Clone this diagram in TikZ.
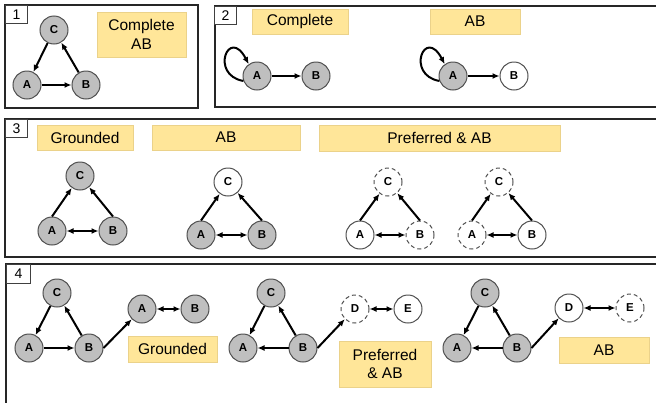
\documentclass[tikz,border=0pt]{standalone}
\usepackage{fontspec}
\setmainfont{Liberation Sans}
\usetikzlibrary{arrows.meta}
\definecolor{nodegray}{HTML}{BFBFBF}
\definecolor{nodeedge}{HTML}{505050}
\definecolor{labelfill}{HTML}{FFE699}
\definecolor{labeledge}{HTML}{EBD28A}
\tikzset{
  panel/.style={draw=black!85, line width=1.6pt},
  tagbox/.style={draw=black!75, line width=0.8pt, fill=white, anchor=north west,
    inner sep=0pt, font=\fontsize{14}{16}\selectfont},
  lbl/.style={fill=labelfill, draw=labeledge, line width=0.6pt, inner sep=0pt,
    align=center, font=\fontsize{15.5}{18.5}\selectfont},
  arg/.style={circle, minimum size=28pt, inner sep=0pt, draw=nodeedge,
    line width=1pt, fill=nodegray, font=\fontsize{11.5}{13}\selectfont\bfseries},
  argw/.style={arg, fill=white},
  argd/.style={arg, fill=white, dash pattern=on 4pt off 3pt},
  arr/.style={line width=2pt, -{Latex[length=7pt,width=6pt]}},
  barr/.style={line width=2pt, {Latex[length=7pt,width=6pt]}-{Latex[length=7pt,width=6pt]}},
}
\begin{document}
\begin{tikzpicture}[x=1pt,y=-1pt]
\useasboundingbox (0,0) rectangle (656,402);
\clip (0,0) rectangle (656,402);

% panel frames
\draw[panel] (5,5) rectangle (198,108);
\draw[panel] (215,6) rectangle (680,107);
\draw[panel] (5,119) rectangle (680,257);
\draw[panel] (6,264) rectangle (680,420);

% panel numbers
\node[tagbox, minimum width=22pt, minimum height=18pt] (t1) at (5,5) {1};
\node[tagbox, minimum width=22pt, minimum height=18pt] (t2) at (214,6) {2};
\node[tagbox, minimum width=22pt, minimum height=18pt] (t3) at (5,119) {3};
\node[tagbox, minimum width=24pt, minimum height=19pt] (t4) at (6,264) {4};

% ---- panel 1 ----
\node[lbl, minimum width=89pt, minimum height=45pt] (l1) at (141.5,34.5) {Complete\\AB};
\node[arg] (p1c) at (54,30) {C};
\node[arg] (p1a) at (27,85) {A};
\node[arg] (p1b) at (86,85) {B};
\draw[arr] (p1c) -- (p1a);
\draw[arr] (p1a) -- (p1b);
\draw[arr] (p1b) -- (p1c);

% ---- panel 2 ----
\node[lbl, minimum width=96pt, minimum height=25pt] (l2a) at (300,21.5) {Complete};
\node[lbl, minimum width=90pt, minimum height=25pt] (l2b) at (475,21.5) {AB};
\node[arg] (p2a) at (257,76) {A};
\node[arg] (p2b) at (316,76) {B};
\draw[arr] (p2a.200) .. controls +(-34,-6) and +(-20,-38) .. (p2a.125);
\draw[arr] (p2a) -- (p2b);
\node[arg] (q2a) at (453,76) {A};
\node[argw] (q2b) at (514,76) {B};
\draw[arr] (q2a.200) .. controls +(-34,-6) and +(-20,-38) .. (q2a.125);
\draw[arr] (q2a) -- (q2b);

% ---- panel 3 ----
\node[lbl, minimum width=96pt, minimum height=25pt] (l3a) at (85,137.5) {Grounded};
\node[lbl, minimum width=148pt, minimum height=25pt] (l3b) at (226,137.5) {AB};
\node[lbl, minimum width=241pt, minimum height=26pt] (l3c) at (439.5,138) {Preferred \& AB};

\node[arg] (g1c) at (80,176) {C};
\node[arg] (g1a) at (52,231) {A};
\node[arg] (g1b) at (113,231) {B};
\draw[arr] (g1a.north) -- (g1c);
\draw[arr] (g1b.north) -- (g1c);
\draw[barr] (g1a) -- (g1b);

\node[argw] (g2c) at (228,182) {C};
\node[arg] (g2a) at (201,235) {A};
\node[arg] (g2b) at (262,235) {B};
\draw[arr] (g2a.north) -- (g2c);
\draw[arr] (g2b.north) -- (g2c);
\draw[barr] (g2a) -- (g2b);

\node[argd] (g3c) at (388,182) {C};
\node[argw] (g3a) at (360,235) {A};
\node[argd] (g3b) at (420,235) {B};
\draw[arr] (g3a.north) -- (g3c);
\draw[arr] (g3b.north) -- (g3c);
\draw[barr] (g3a) -- (g3b);

\node[argd] (g4c) at (499,182) {C};
\node[argd] (g4a) at (472,235) {A};
\node[argw] (g4b) at (532,235) {B};
\draw[arr] (g4a.north) -- (g4c);
\draw[arr] (g4b.north) -- (g4c);
\draw[barr] (g4a) -- (g4b);

% ---- panel 4 ----
\node[lbl, minimum width=89pt, minimum height=26pt] (l4a) at (172.5,349) {Grounded};
\node[lbl, minimum width=92pt, minimum height=46pt] (l4b) at (385,364) {Preferred\\\& AB};
\node[lbl, minimum width=90pt, minimum height=26pt] (l4c) at (604,350) {AB};

\node[arg] (h1c) at (57,293) {C};
\node[arg] (h1a) at (29,348) {A};
\node[arg] (h1b) at (89,348) {B};
\node[arg] (h1d) at (142,309) {A};
\node[arg] (h1e) at (195,309) {B};
\draw[arr] (h1c) -- (h1a);
\draw[arr] (h1a) -- (h1b);
\draw[arr] (h1b) -- (h1c);
\draw[arr] (h1b.east) -- (h1d.225);
\draw[barr] (h1d) -- (h1e);

\node[arg] (h2c) at (271,293) {C};
\node[arg] (h2a) at (243,348) {A};
\node[arg] (h2b) at (303,348) {B};
\node[argd] (h2d) at (355,309) {D};
\node[argw] (h2e) at (408,309) {E};
\draw[arr] (h2c) -- (h2a);
\draw[arr] (h2b) -- (h2a);
\draw[arr] (h2b) -- (h2c);
\draw[arr] (h2b.east) -- (h2d.225);
\draw[barr] (h2d) -- (h2e);

\node[arg] (h3c) at (485,293) {C};
\node[arg] (h3a) at (457,348) {A};
\node[arg] (h3b) at (517,348) {B};
\node[argw] (h3d) at (569,308) {D};
\node[argd] (h3e) at (630,308) {E};
\draw[arr] (h3c) -- (h3a);
\draw[arr] (h3b) -- (h3a);
\draw[arr] (h3b) -- (h3c);
\draw[arr] (h3b.east) -- (h3d.225);
\draw[barr] (h3d) -- (h3e);
\end{tikzpicture}
\end{document}
